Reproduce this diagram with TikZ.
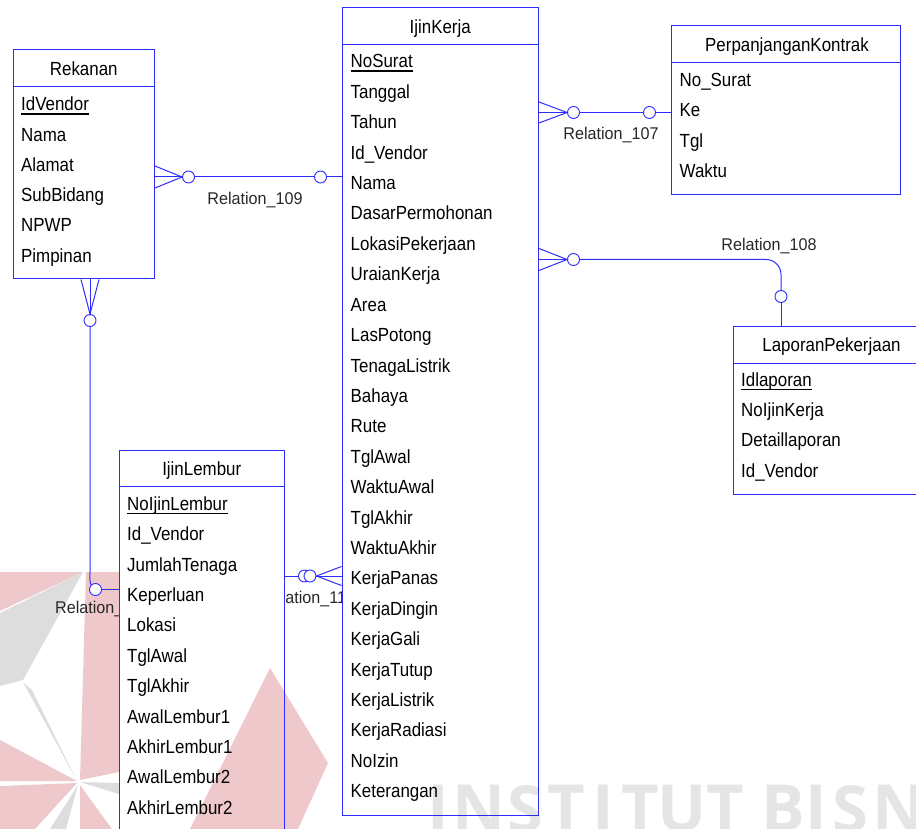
\documentclass[tikz,border=0pt]{standalone}
\usepackage{fontspec}
\setmainfont{Liberation Sans}[FakeStretch=0.89]
\newfontfamily\relfont{Liberation Sans}[FakeStretch=0.95]
\newfontfamily\wmfont{Open Sans}
\definecolor{erblue}{RGB}{45,45,255}
\definecolor{logopink}{RGB}{238,200,203}
\definecolor{logogray}{RGB}{221,221,221}
\definecolor{lblgray}{RGB}{40,40,40}
\begin{document}
\begin{tikzpicture}[x=1pt,y=-1pt,
  entity/.style={draw=erblue, fill=white, line width=1pt, inner sep=0pt, rectangle},
  etitle/.style={anchor=base, inner sep=0pt, font=\fontsize{19}{19}\selectfont},
  attr/.style={anchor=base west, inner sep=0pt, font=\fontsize{19}{19}\selectfont},
  rlabel/.style={anchor=base, inner sep=0pt, text=lblgray, font=\relfont\fontsize{17}{17}\selectfont},
  opt/.style={circle, draw=erblue, fill=white, line width=0.9pt, minimum size=12pt, inner sep=0pt},
  link/.style={draw=erblue, line width=1pt},
  divider/.style={draw=erblue, line width=1pt},
  keyline/.style={black, line width=1.3pt},
  wmark/.style={inner sep=0pt, text=black, text opacity=0.10, font=\wmfont\bfseries\fontsize{65}{65}\selectfont}]
\useasboundingbox (0,0) rectangle (916,829);
\clip (0,0) rectangle (916,829);

% ---- logo in the background ----
\fill[logopink] (0,572) -- (83,572) -- (0,611) -- cycle;
\fill[logogray] (83,572) -- (0,613) -- (0,686) -- (23,680) -- cycle;
\fill[logogray] (23,682) -- (77,781) -- (32,690) -- cycle;
\fill[logopink] (86,572) -- (119,572) -- (119,772) -- (80,780) -- cycle;
\fill[logopink] (0,740) -- (77,781) -- (0,781) -- cycle;
\fill[logopink] (0,786) -- (77,783) -- (35,829) -- (0,829) -- cycle;
\fill[logogray] (78,785) -- (50,829) -- (66,829) -- cycle;
\fill[logopink] (80,785) -- (80,829) -- (112,829) -- cycle;
\fill[logogray] (80,782) -- (119,783) -- (119,794) -- cycle;
\fill[logopink] (270,668) -- (328,763) -- (298,829) -- (190,829) -- cycle;

% ---- entities ----
\node[entity, minimum width=141.5pt, minimum height=229.5pt] (rekanan) at (83.75,164.25) {};
\node[entity, minimum width=196.5pt, minimum height=807.5pt] (kerja) at (440.25,411.25) {};
\node[entity, minimum width=229pt, minimum height=168.5pt] (perp) at (786,110.25) {};
\node[entity, minimum width=197pt, minimum height=168.5pt] (lapor) at (831.5,410.25) {};
\node[entity, fill=none, minimum width=165.5pt, minimum height=409.5pt] (lembur) at (201.75,655.25) {};

\draw[divider] (rekanan.north west) ++(0,37.5) -- ++(142.5,0);
\draw[divider] (kerja.north west) ++(0,37.5) -- ++(197.5,0);
\draw[divider] (perp.north west) ++(0,37.5) -- ++(230,0);
\draw[divider] (lapor.north west) ++(0,37.5) -- ++(197,0);
\draw[divider] (lembur.north west) ++(0,36.5) -- ++(166.5,0);

% titles
\node[etitle] (rekanan-t) at (83.75,75.5) {Rekanan};
\node[etitle] (kerja-t) at (440.25,34) {IjinKerja};
\node[etitle] (perp-t) at (787,52) {PerpanjanganKontrak};
\node[etitle] (lapor-t) at (831.5,351.5) {LaporanPekerjaan};
\node[etitle] (lembur-t) at (201.75,475.5) {IjinLembur};

% attributes
\foreach \t [count=\i from 0] in {IdVendor,Nama,Alamat,SubBidang,NPWP,Pimpinan}
  \node[attr] (rekanan-\i) at (21,{111+30.2*\i}) {\t};
\foreach \t [count=\i from 0] in {NoSurat,Tanggal,Tahun,Id\_Vendor,Nama,DasarPermohonan,LokasiPekerjaan,UraianKerja,Area,LasPotong,TenagaListrik,Bahaya,Rute,TglAwal,WaktuAwal,TglAkhir,WaktuAkhir,KerjaPanas,KerjaDingin,KerjaGali,KerjaTutup,KerjaListrik,KerjaRadiasi,NoIzin,Keterangan}
  \node[attr] (kerja-\i) at (350.5,{68+30.4*\i}) {\t};
\foreach \t [count=\i from 0] in {No\_Surat,Ke,Tgl,Waktu}
  \node[attr] (perp-\i) at (679.5,{86.5+30.5*\i}) {\t};
\foreach \t [count=\i from 0] in {Idlaporan,NoIjinKerja,Detaillaporan,Id\_Vendor}
  \node[attr] (lapor-\i) at (741,{386.5+30.2*\i}) {\t};
\foreach \t [count=\i from 0] in {NoIjinLembur,Id\_Vendor,JumlahTenaga,Keperluan,Lokasi,TglAwal,TglAkhir,AwalLembur1,AkhirLembur1,AwalLembur2,AkhirLembur2}
  \node[attr] (lembur-\i) at (127,{510.5+30.36*\i}) {\t};

% primary keys
\foreach \k in {rekanan-0,kerja-0,lapor-0,lembur-0}
  \draw[keyline] ([yshift=-3pt]\k.base west) -- ([yshift=-3pt]\k.base east);

% ---- relation end points ----
\coordinate (e109a) at ([yshift=-12.75pt]rekanan.east);
\coordinate (e109b) at ([yshift=234.25pt]kerja.west);
\coordinate (e107a) at ([yshift=298.75pt]kerja.east);
\coordinate (e107b) at ([yshift=-2.25pt]perp.west);
\coordinate (e108a) at ([yshift=151.75pt]kerja.east);
\coordinate (e108b) at ([xshift=-50.5pt]lapor.north);
\coordinate (e110a) at ([xshift=6.25pt]rekanan.south);
\coordinate (e110b) at ([yshift=65.75pt]lembur.west);
\coordinate (e111a) at ([yshift=79.25pt]lembur.east);
\coordinate (e111b) at ([yshift=-164.75pt]kerja.west);

% Relation_109: Rekanan (many) -- IjinKerja
\node[opt] (o109a) at ([xshift=33.5pt]e109a) {};
\node[opt] (o109b) at ([xshift=-21pt]e109b) {};
\draw[link] (e109a) -- (o109a) -- (o109b) -- (e109b);
\draw[link] ([yshift=11pt]e109a) -- (o109a.west) -- ([yshift=-11pt]e109a);

% Relation_107: IjinKerja (many) -- PerpanjanganKontrak
\node[opt] (o107a) at ([xshift=34.5pt]e107a) {};
\node[opt] (o107b) at ([xshift=-21.5pt]e107b) {};
\draw[link] (e107a) -- (o107a) -- (o107b) -- (e107b);
\draw[link] ([yshift=10.5pt]e107a) -- (o107a.west) -- ([yshift=-10.5pt]e107a);

% Relation_108: IjinKerja (many) -- LaporanPekerjaan
\node[opt] (o108a) at ([xshift=34.5pt]e108a) {};
\node[opt] (o108b) at ([yshift=29pt]e108b) {};
\draw[link] (e108a) -- (o108a);
\draw[link, rounded corners=15pt] (o108a) -| (o108b);
\draw[link] (o108b) -- (e108b);
\draw[link] ([yshift=11pt]e108a) -- (o108a.west) -- ([yshift=-11pt]e108a);

% Relation_110: Rekanan (many) -- IjinLembur
\node[opt] (o110a) at ([yshift=-41pt]e110a) {};
\node[opt] (o110b) at ([xshift=-23pt]e110b) {};
\draw[link] (e110a) -- (o110a);
\draw[link] ([xshift=-9pt]e110a) -- (o110a.north) -- ([xshift=9pt]e110a);
\draw[link] (o110a) -- ++(0,252) .. controls +(0,6) and +(-1.5,-5) .. (o110b.north west);
\draw[link] (o110b) -- (e110b);

% Relation_111: IjinLembur -- IjinKerja (many)
\node[opt] (o111a) at ([xshift=19.5pt]e111a) {};
\node[opt] (o111b) at ([xshift=25pt]e111a) {};
\draw[link] (e111a) -- (o111a);
\draw[link] (o111b) -- (e111b);
\draw[link] ([yshift=9.5pt]e111b) -- (o111b.east) -- ([yshift=-9.5pt]e111b);

% relation labels
\node[rlabel] (l109) at (255,205) {Relation\_109};
\node[rlabel] (l107) at (611,140) {Relation\_107};
\node[rlabel] (l108) at (769,250.5) {Relation\_108};
\begin{scope}
  \clip (0,560) rectangle (118.5,640);
  \node[rlabel, anchor=base west] (l110) at (55,613) {Relation\_110};
\end{scope}
\begin{scope}
  \clip (285,560) rectangle (341.5,640);
  \node[rlabel, anchor=base west] (l111) at (261,603) {Relation\_111};
\end{scope}

% ---- lettering in the foreground ----
\foreach \ch/\cx [count=\k] in {I/438.5,N/479,S/525,T/566.5,I/603.5,T/640.5,U/682.5,T/725,B/783.5,I/816.5,S/850,N/898.5}
  \node[wmark, anchor=north] (wm\k) at (\cx,785) {\ch};
\end{tikzpicture}
\end{document}
